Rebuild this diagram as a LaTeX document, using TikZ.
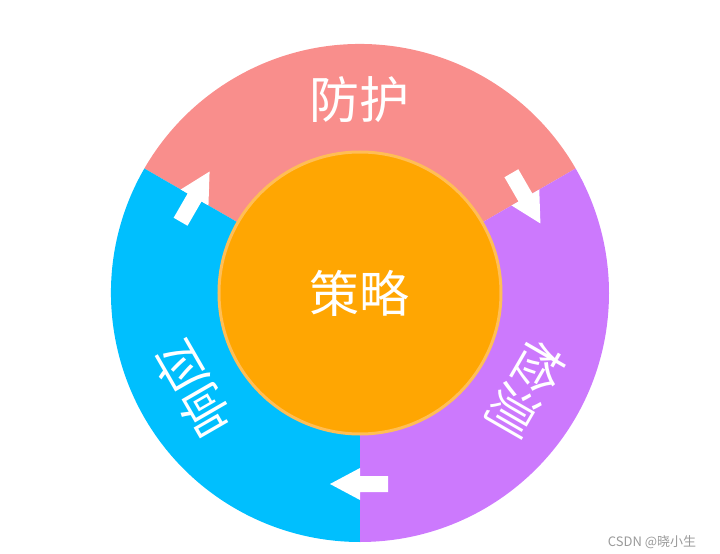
\documentclass[tikz,border=0pt]{standalone}
\usepackage{fontspec}
\newfontfamily\cjk{Noto Sans CJK SC}
\definecolor{segpink}{HTML}{F98E8C}
\definecolor{segblue}{HTML}{00BFFE}
\definecolor{segpurple}{HTML}{CC79FD}
\definecolor{coreorange}{HTML}{FFA602}
\definecolor{coreedge}{HTML}{FFBE55}
\definecolor{wmgrey}{HTML}{9A9A9A}
\tikzset{
  ringtext/.style={text=white, inner sep=0pt, font=\cjk\fontsize{50}{50}\selectfont},
  flowarrow/.style={fill=white, draw=none},
}
\newcommand{\blockarrow}[1]{%
  \fill[flowarrow, shift={(#1:191pt)}, rotate=#1-90]
    (-28pt,-8pt) -- (0pt,-8pt) -- (0pt,-16pt) -- (30pt,0pt) -- (0pt,16pt) -- (0pt,8pt) -- (-28pt,8pt) -- cycle;}
\begin{document}
\begin{tikzpicture}[x=1pt,y=1pt]
\useasboundingbox (-360,-261) rectangle (360,293);
\coordinate (c) at (0,0);
% ring sectors
\fill[segpink] (c) -- (30:249pt) arc[start angle=30,end angle=150,radius=249pt] -- cycle;
\fill[segblue] (c) -- (150:249pt) arc[start angle=150,end angle=270,radius=249pt] -- cycle;
\fill[segpurple] (c) -- (270:249pt) arc[start angle=270,end angle=390,radius=249pt] -- cycle;
% centre
\node[circle, fill=coreorange, draw=coreedge, line width=3pt, minimum size=282pt, inner sep=0pt] (core) at (c) {};
\node[ringtext] (ce) at (c) {策略};
% labels
\node[ringtext] (fh) at (90:193pt) {防护};
\node[ringtext, rotate=-120] (jc) at (-30:192pt) {检测};
\node[ringtext, rotate=120] (xy) at (210:193pt) {响应};
% arrows
\blockarrow{150}
\blockarrow{30}
\blockarrow{270}
% watermark
\node[text=wmgrey, inner sep=0pt, font=\cjk\fontsize{13}{13}\selectfont] (wm) at (292,-249) {CSDN @晓小生};
\end{tikzpicture}
\end{document}
